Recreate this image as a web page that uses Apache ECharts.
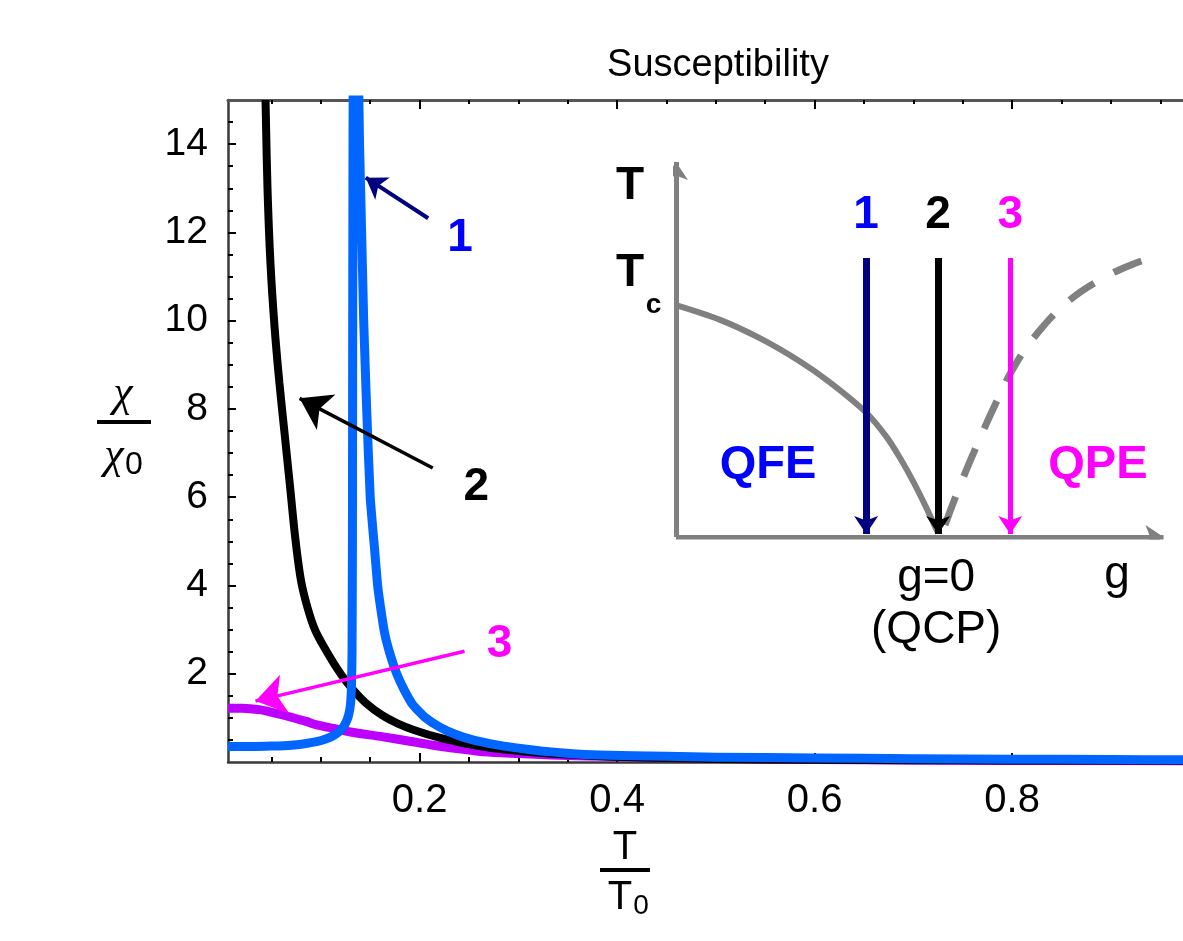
<!DOCTYPE html>
<html><head><meta charset="utf-8">
<script src="https://cdn.jsdelivr.net/npm/echarts@6/dist/echarts.min.js"></script>
<style>html,body{margin:0;padding:0;background:#fff}#c{width:1183px;height:941px}</style>
</head><body><div id="c"></div>
<script>
// ---- axis ticks / labels ----
const xLabelTicks = [0.2, 0.4, 0.6, 0.8];
const xMinorTicks = [0.05, 0.1, 0.15, 0.25, 0.3, 0.35, 0.45, 0.5, 0.55, 0.65, 0.7, 0.75, 0.85, 0.9, 0.95];
const yLabelTicks = [2, 4, 6, 8, 10, 12, 14];
const yMinorTicks = [0.5, 1, 1.5, 2.5, 3, 3.5, 4.5, 5, 5.5, 6.5, 7, 7.5, 8.5, 9, 9.5, 10.5, 11, 11.5, 12.5, 13, 13.5, 14.5];

// ---- curves (T/T0, chi/chi0) ----
const curve1 = [[0.006,0.35],[0.03,0.35],[0.05,0.36],[0.07,0.38],[0.085,0.42],[0.0957,0.46],[0.105,0.52],[0.112,0.59],[0.118,0.68],[0.122,0.77],[0.1255,0.9],[0.128,1.05],[0.13,1.3],[0.131,1.7],[0.1316,2.5],[0.132,5],[0.1322,9],[0.1325,13],[0.1328,16],[0.136,40],[0.138,16],[0.1392,14],[0.1408,12.5],[0.1434,10],[0.1464,8],[0.150,6],[0.1545,4.8],[0.1575,4],[0.1605,3.5],[0.1646,2.92],[0.170,2.45],[0.1768,2.0],[0.184,1.65],[0.193,1.3],[0.205,1.02],[0.2204,0.79],[0.236,0.63],[0.2538,0.5],[0.275,0.4],[0.298,0.32],[0.323,0.25],[0.349,0.2],[0.382,0.16],[0.45,0.13],[0.5,0.11],[0.6,0.09],[0.7,0.075],[0.8,0.065],[0.9,0.055],[0.973,0.05]];
const curve2 = [[0.044,15],[0.046,13],[0.049,11.3],[0.053,9.9],[0.058,8.6],[0.0635,7.4],[0.069,6.2],[0.0745,5],[0.080,4.1],[0.0865,3.5],[0.094,3.0],[0.106,2.5],[0.12,2.0],[0.132,1.65],[0.145,1.35],[0.162,1.06],[0.178,0.87],[0.195,0.72],[0.22,0.55],[0.248,0.41],[0.275,0.31],[0.305,0.24],[0.35,0.17],[0.4,0.12],[0.45,0.09],[0.5,0.07],[0.6,0.05],[0.7,0.04],[0.8,0.035],[0.973,0.03]];
const curve3 = [[0.006,1.22],[0.02,1.22],[0.039,1.18],[0.055,1.1],[0.069,1.02],[0.085,0.92],[0.096,0.84],[0.113,0.76],[0.13,0.68],[0.163,0.57],[0.19,0.47],[0.214,0.38],[0.24,0.3],[0.265,0.23],[0.3,0.19],[0.333,0.16],[0.383,0.13],[0.45,0.1],[0.55,0.07],[0.65,0.05],[0.8,0.035],[0.973,0.03]];

// ---- annotation arrows in the main plot: [tail, tip] ----
const arrow1 = [[0.2087,12.32],[0.1455,13.24]];
const arrow2 = [[0.2133,6.66],[0.0785,8.24]];
const arrow3 = [[0.2455,2.51],[0.0338,1.38]];
const mainLabels = [
  {text:'1', at:[0.241,11.86], color:'#0000FF'},
  {text:'2', at:[0.2575,6.23], color:'#000000'},
  {text:'3', at:[0.281,2.67], color:'#FF00FF'}
];

// ---- inset phase diagram (schematic units 0..100) ----
const insetBoundary = [[0,61.5],[9,57.6],[17,52.8],[25,46.8],[31.4,41],[38.8,33],[43,26.5],[45.7,21],[48.5,14.5],[51,8],[53.5,1]];
const insetCrossover = [[54.9,3.2],[57.6,12.5],[61,23.1],[65.1,35],[69.2,45.6],[74.3,54.9],[80.4,62.9],[86.5,68.2],[92.7,72.1],[98.8,74.8]];
const insetAxisT = [[0,0],[0,99.5]];
const insetAxisG = [[0,0],[99.5,0]];
const insetPaths = [
  {coords:[[38.8,74],[38.8,0.8]], color:'#000080', width:7},
  {coords:[[53.5,74],[53.5,0.8]], color:'#000000', width:7},
  {coords:[[68.2,74],[68.2,0.8]], color:'#FF00FF', width:5}
];
const insetLabels = [
  {text:'T', at:[-9.4,93], color:'#000', size:46, weight:'bold'},
  {text:'T', at:[-9.4,70], color:'#000', size:46, weight:'bold'},
  {text:'c', at:[-4.6,61.5], color:'#000', size:28, weight:'bold'},
  {text:'1', at:[38.8,85.4], color:'#0000FF', size:46, weight:'bold'},
  {text:'2', at:[53.5,85.4], color:'#000', size:46, weight:'bold'},
  {text:'3', at:[68.2,85.4], color:'#FF00FF', size:46, weight:'bold'},
  {text:'QFE', at:[18.8,19.1], color:'#0000FF', size:47, weight:'bold'},
  {text:'QPE', at:[86.1,19.1], color:'#FF00FF', size:47, weight:'bold'},
  {text:'g=0', at:[53.1,-10.9], color:'#000', size:46, weight:'normal'},
  {text:'(QCP)', at:[53.1,-24.7], color:'#000', size:46, weight:'normal'},
  {text:'g', at:[90,-10.1], color:'#000', size:46, weight:'normal'}
];

const FONT = 'Liberation Sans, Arial, Helvetica, sans-serif';
const SERIF = 'Liberation Serif, Times New Roman, serif';
const chart = echarts.init(document.getElementById('c'), null, {renderer:'canvas'});

function arrowSeries(coords, color, width, size, xi, yi){
  return {type:'lines', coordinateSystem:'cartesian2d', xAxisIndex:xi, yAxisIndex:yi,
    symbol:['none','arrow'], symbolSize:size, silent:true, z:5,
    lineStyle:{color:color, width:width, opacity:1, curveness:0},
    data:[{coords:coords}]};
}
function labelSeries(items, xi, yi, defSize){
  return {type:'scatter', xAxisIndex:xi, yAxisIndex:yi, symbolSize:0, clip:false, silent:true, z:6,
    itemStyle:{opacity:1},
    data:items.map(d=>({value:d.at, itemStyle:{opacity:1}, label:{show:true, position:'inside', formatter:d.text, opacity:1,
      color:d.color, fontSize:d.size||defSize, fontWeight:d.weight||'bold', fontFamily:FONT}}))};
}

const xRange = {min:0.006, max:0.973};
const yRange = {min:0, max:15};
const axisColor = '#3a3a3a';

const option = {
  animation:false,
  backgroundColor:'#fff',
  title:{text:'Susceptibility', left:713, top:42, textAlign:'center',
    textStyle:{fontFamily:FONT, fontSize:38, fontWeight:'normal', color:'#000'}},
  grid:[
    {left:228, top:100, right:0, bottom:179},
    {left:676, top:160, width:490, height:377}
  ],
  xAxis:[
    Object.assign({type:'value', gridIndex:0, position:'bottom',
      axisLine:{show:true, onZero:false, lineStyle:{color:axisColor, width:2.5}},
      axisTick:{show:true, inside:true, length:9, customValues:xLabelTicks, lineStyle:{color:'#000', width:2}},
      axisLabel:{show:true, customValues:xLabelTicks, margin:19, fontSize:40, fontFamily:FONT, color:'#000',
        formatter:v=>v.toFixed(1)},
      splitLine:{show:false}}, xRange),
    Object.assign({type:'value', gridIndex:0, position:'bottom',
      axisLine:{show:false, onZero:false},
      axisTick:{show:true, inside:true, length:5, customValues:xMinorTicks, lineStyle:{color:'#000', width:2}},
      axisLabel:{show:false}, splitLine:{show:false}}, xRange),
    Object.assign({type:'value', gridIndex:0, position:'top',
      axisLine:{show:true, onZero:false, lineStyle:{color:'#555', width:3}},
      axisTick:{show:true, inside:true, length:9, customValues:xLabelTicks, lineStyle:{color:'#000', width:2}},
      axisLabel:{show:false}, splitLine:{show:false}}, xRange),
    Object.assign({type:'value', gridIndex:0, position:'top',
      axisLine:{show:false, onZero:false},
      axisTick:{show:true, inside:true, length:4, customValues:xMinorTicks, lineStyle:{color:'#000', width:2}},
      axisLabel:{show:false}, splitLine:{show:false}}, xRange),
    {type:'value', gridIndex:1, min:0, max:100, show:false}
  ],
  yAxis:[
    Object.assign({type:'value', gridIndex:0, position:'left',
      axisLine:{show:true, onZero:false, lineStyle:{color:axisColor, width:2.5}},
      axisTick:{show:true, inside:true, length:8, customValues:yLabelTicks, lineStyle:{color:'#000', width:2}},
      axisLabel:{show:true, customValues:yLabelTicks, margin:20, fontSize:39, fontFamily:FONT, color:'#000'},
      splitLine:{show:false}}, yRange),
    Object.assign({type:'value', gridIndex:0, position:'left',
      axisLine:{show:false, onZero:false},
      axisTick:{show:true, inside:true, length:5, customValues:yMinorTicks, lineStyle:{color:'#000', width:2}},
      axisLabel:{show:false}, splitLine:{show:false}}, yRange),
    {type:'value', gridIndex:1, min:0, max:100, show:false}
  ],
  series:[
    {type:'line', name:'3', data:curve3, xAxisIndex:0, yAxisIndex:0, showSymbol:false, symbol:'none', smooth:0.3, clip:true,
      lineStyle:{color:'#BE00FF', width:9}, z:2},
    {type:'line', name:'2', data:curve2, xAxisIndex:0, yAxisIndex:0, showSymbol:false, symbol:'none', smooth:0.35, clip:true,
      lineStyle:{color:'#000000', width:8}, z:3},
    {type:'line', name:'1', data:curve1, xAxisIndex:0, yAxisIndex:0, showSymbol:false, symbol:'none', smooth:0.15, clip:true,
      lineStyle:{color:'#0066FF', width:9, join:'round'}, z:4},
    arrowSeries(arrow1, '#000080', 4, 20, 0, 0),
    arrowSeries(arrow2, '#000000', 3.5, 30, 0, 0),
    arrowSeries(arrow3, '#FF00FF', 3.5, 30, 0, 0),
    labelSeries(mainLabels, 0, 0, 46),
    // inset
    {type:'line', data:insetBoundary, xAxisIndex:4, yAxisIndex:2, showSymbol:false, symbol:'none', smooth:0.3, clip:false,
      lineStyle:{color:'#808080', width:6}, z:3},
    {type:'line', data:insetCrossover, xAxisIndex:4, yAxisIndex:2, showSymbol:false, symbol:'none', smooth:0.4, clip:false,
      lineStyle:{color:'#808080', width:7, type:[30,22]}, z:3},
    arrowSeries(insetAxisT, '#808080', 5, 18, 4, 2),
    arrowSeries(insetAxisG, '#808080', 5, 18, 4, 2)
  ].concat(insetPaths.map(p=>arrowSeries(p.coords, p.color, p.width, 18, 4, 2)))
   .concat([labelSeries(insetLabels, 4, 2, 46)]),
  graphic:[
    {type:'text', x:123, y:394, style:{text:'χ', font:'italic 44px '+SERIF, fill:'#000', align:'center', verticalAlign:'middle'}},
    {type:'rect', shape:{x:97, y:420, width:54, height:4}, style:{fill:'#000'}},
    {type:'text', x:114, y:456, style:{text:'χ', font:'italic 44px '+SERIF, fill:'#000', align:'center', verticalAlign:'middle'}},
    {type:'text', x:134, y:465, style:{text:'0', font:'32px '+FONT, fill:'#000', align:'center', verticalAlign:'middle'}},
    {type:'text', x:625, y:848, style:{text:'T', font:'40px '+FONT, fill:'#000', align:'center', verticalAlign:'middle'}},
    {type:'rect', shape:{x:600, y:868, width:50, height:4}, style:{fill:'#000'}},
    {type:'text', x:620, y:898, style:{text:'T', font:'40px '+FONT, fill:'#000', align:'center', verticalAlign:'middle'}},
    {type:'text', x:641, y:906, style:{text:'0', font:'28px '+FONT, fill:'#000', align:'center', verticalAlign:'middle'}}
  ]
};
chart.setOption(option);
</script></body></html>
